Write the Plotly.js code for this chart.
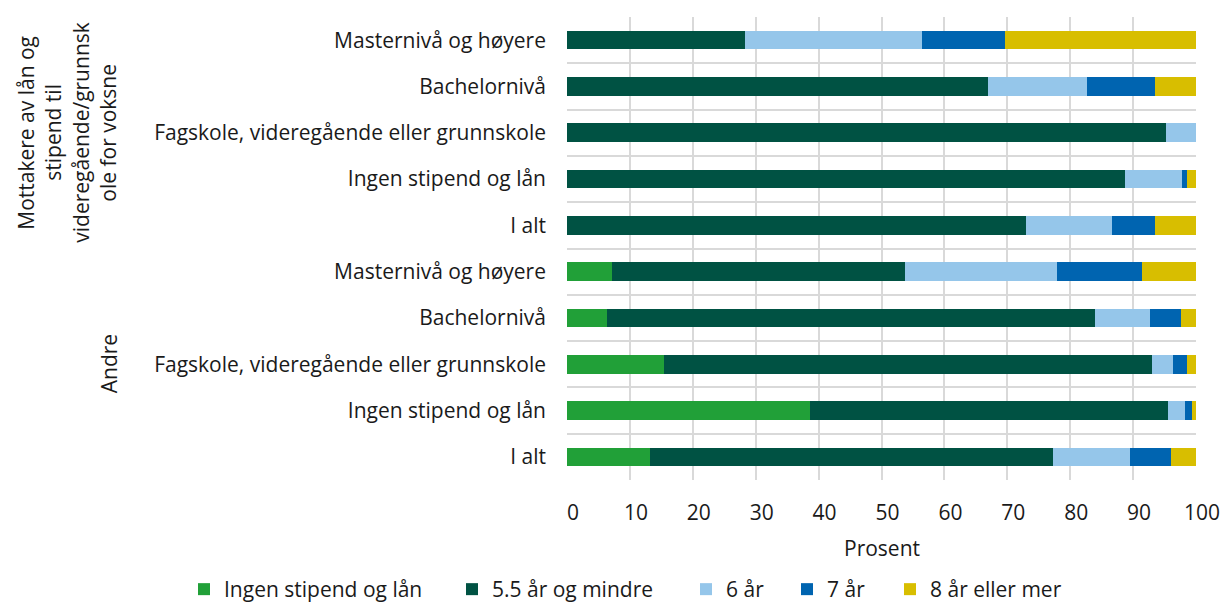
<!DOCTYPE html>
<html>
<head>
<meta charset="utf-8">
<script src="https://cdn.plot.ly/plotly-3.0.1.min.js"></script>
<style>html,body{margin:0;padding:0;background:#fff;}#chart{width:1225px;height:610px;}</style>
</head>
<body>
<div id="chart"></div>
<script>
const categories = [
  "Masternivå og høyere",
  "Bachelornivå",
  "Fagskole, videregående eller grunnskole",
  "Ingen stipend og lån",
  "I alt",
  "Masternivå og høyere",
  "Bachelornivå",
  "Fagskole, videregående eller grunnskole",
  "Ingen stipend og lån",
  "I alt"
];
const groups = ["Mottakere av lån og<br>stipend til<br>videregående/grunnsk<br>ole for voksne", "Andre"];
const seriesNames = ["Ingen stipend og lån", "5.5 år og mindre", "6 år", "7 år", "8 år eller mer"];
const ingen   = [0, 0, 0, 0, 0, 7.2, 6.4, 15.4, 38.7, 13.2];
const under55 = [28.3, 66.9, 95.3, 88.7, 72.9, 46.5, 77.5, 77.6, 56.8, 64.1];
const aar6    = [28.2, 15.8, 4.7, 9.1, 13.8, 24.2, 8.8, 3.4, 2.7, 12.2];
const aar7    = [13.1, 10.8, 0, 0.7, 6.8, 13.5, 4.9, 2.1, 1.2, 6.6];
const aar8    = [30.4, 6.5, 0, 1.5, 6.5, 8.6, 2.4, 1.5, 0.6, 3.9];
const xTicks  = [0, 10, 20, 30, 40, 50, 60, 70, 80, 90, 100];
const xTitle  = "Prosent";

const colors = ["#21a038", "#005243", "#95c6ea", "#0064b0", "#d8be00"];
const values = [ingen, under55, aar6, aar7, aar8];
const pos = categories.map((c, i) => i);
const legendIds = ["legend", "legend2", "legend3", "legend4", "legend5"];

const traces = values.map((v, k) => ({
  type: "bar",
  orientation: "h",
  name: seriesNames[k],
  legend: legendIds[k],
  x: v,
  y: pos,
  marker: {color: colors[k], line: {width: 0}},
  width: 0.4,
  hoverinfo: "x+name"
}));

const font = {family: "Open Sans, Noto Sans, sans-serif", size: 21, color: "#1a1a1a"};

const W = 1225, H = 610;
const plotLeft = 567, plotW = 629, plotTop = 17, plotH = 463;
const plotBottom = plotTop + plotH;

const groupLines = groups[0].split("<br>");
const lineX = [26, 53, 81, 108];
const annotations = groupLines.map((t, i) => ({
  text: t, xref: "paper", yref: "y",
  x: (lineX[i] - plotLeft) / plotW, y: 2,
  xanchor: "center", yanchor: "middle",
  textangle: -90, showarrow: false, font: font
}));
annotations.push({
  text: groups[1], xref: "paper", yref: "y",
  x: (109 - plotLeft) / plotW, y: 7,
  xanchor: "center", yanchor: "middle",
  textangle: -90, showarrow: false, font: font
});
annotations.push({
  text: xTitle, xref: "paper", yref: "paper",
  x: 0.5, y: -(548 - plotBottom) / plotH,
  xanchor: "center", yanchor: "middle",
  showarrow: false, font: font
});

const legendPx = [184, 452, 686, 787, 890];

const layout = {
  width: W, height: H,
  margin: {l: plotLeft, r: W - plotLeft - plotW, t: plotTop, b: H - plotBottom},
  barmode: "stack",
  paper_bgcolor: "#fff", plot_bgcolor: "#fff",
  font: font,
  showlegend: true,
  xaxis: {
    range: [0, 100], tickvals: xTicks, ticktext: xTicks.map(String),
    showgrid: true, gridcolor: "#d9d9d9", gridwidth: 2,
    zeroline: false, showline: false, ticks: "", ticklabelstandoff: 18,
    ticklabelshift: 6, automargin: false,
    tickfont: font, fixedrange: true
  },
  yaxis: {
    range: [9.5, -0.5], tickvals: pos, ticktext: categories,
    showgrid: false, zeroline: false, showline: false, ticks: "",
    ticklabelstandoff: 20, tickfont: font, automargin: false,
    minor: {tickvals: [-0.5,0.5,1.5,2.5,3.5,4.5,5.5,6.5,7.5,8.5,9.5], showgrid: true, gridcolor: "#d9d9d9", gridwidth: 2, ticks: ""},
    fixedrange: true
  },
  annotations: annotations
};

legendIds.forEach((id, k) => {
  layout[id] = {
    orientation: "h",
    x: legendPx[k] / W, xref: "container", xanchor: "left",
    y: -8 / H, yref: "container", yanchor: "bottom",
    font: font, itemwidth: 30, bgcolor: "rgba(0,0,0,0)"
  };
});

Plotly.newPlot("chart", traces, layout, {displayModeBar: false, staticPlot: true});
</script>
</body>
</html>
